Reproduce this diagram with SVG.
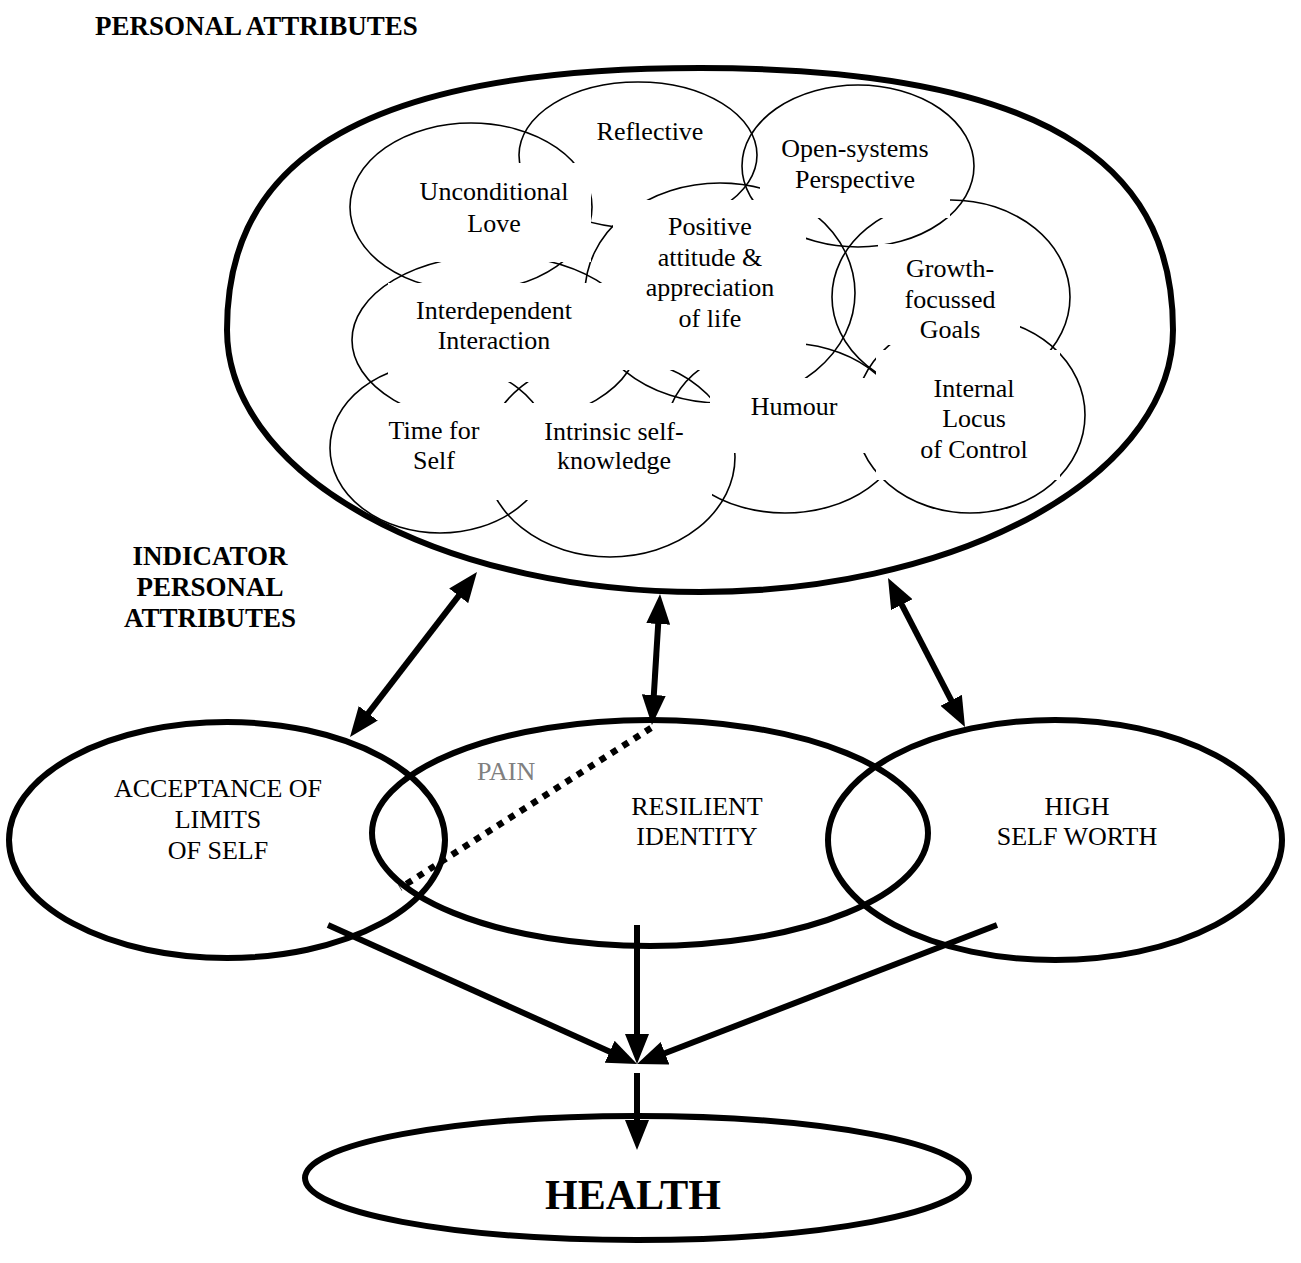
<svg xmlns="http://www.w3.org/2000/svg" width="1301" height="1263" viewBox="0 0 1301 1263">
  <defs>
    <style>
      .lobe { fill: none; stroke: #000; stroke-width: 1.6; }
      .box { fill: #fff; stroke: none; }
      .t { font-family: "Liberation Serif", "Times New Roman", serif; font-size: 26px; fill: #000; text-anchor: middle; }
      .head { font-weight: bold; font-size: 27px; }
      .thick { fill: none; stroke: #000; stroke-width: 6; }
      .arrow { fill: none; stroke: #000; stroke-width: 6; marker-end: url(#tip); }
      .both { marker-start: url(#tip); }
      .dots { fill: none; stroke: #000; stroke-width: 6.5; stroke-dasharray: 6.5 7; }
    </style>
    <marker id="tip" viewBox="0 0 30 24" refX="10" refY="12" markerWidth="30" markerHeight="24" markerUnits="userSpaceOnUse" orient="auto-start-reverse">
      <path d="M0,0 L30,12 L0,24 Z" fill="#000"/>
    </marker>
  </defs>

  <rect width="1301" height="1263" fill="#fff"/>

  <!-- headings -->
  <text class="t head" x="95" y="35" style="text-anchor:start">PERSONAL ATTRIBUTES</text>
  <g id="indicator-label">
    <text class="t head" x="210" y="565">INDICATOR</text>
    <text class="t head" x="210" y="596">PERSONAL</text>
    <text class="t head" x="210" y="627">ATTRIBUTES</text>
  </g>

  <!-- personal attributes container: flattened top, elliptical bottom -->
  <g id="personal-attributes">
    <path class="thick" d="M227,330 C227,185 321.6,68 700,68 C1078.4,68 1173,185 1173,330 A473,262 0 0 1 227,330 Z"/>
  </g>

  <!-- cloud lobes (outlines only; text panels below mask parts of them) -->
  <g id="cloud-outline">
    <ellipse class="lobe" cx="471" cy="207" rx="121" ry="84"/>
    <ellipse class="lobe" cx="638" cy="155" rx="119" ry="73"/>
    <ellipse class="lobe" cx="858" cy="166" rx="116" ry="81"/>
    <ellipse class="lobe" cx="720" cy="293" rx="135" ry="110"/>
    <ellipse class="lobe" cx="951" cy="297" rx="119" ry="97"/>
    <ellipse class="lobe" cx="495" cy="340" rx="143" ry="85"/>
    <ellipse class="lobe" cx="970" cy="415" rx="115" ry="98"/>
    <ellipse class="lobe" cx="785" cy="428" rx="118" ry="85"/>
    <ellipse class="lobe" cx="440" cy="448" rx="110" ry="85"/>
    <ellipse class="lobe" cx="610" cy="457" rx="125" ry="100"/>
  </g>

  <!-- cloud attributes: white text panels with labels -->
  <g id="unconditional-love">
    <rect class="box" x="400" y="163" width="191" height="99"/>
    <text class="t" x="494" y="200">Unconditional</text>
    <text class="t" x="494" y="232">Love</text>
  </g>
  <g id="reflective">
    <text class="t" x="650" y="140">Reflective</text>
  </g>
  <g id="open-systems">
    <rect class="box" x="760" y="125" width="190" height="93"/>
    <text class="t" x="855" y="157">Open-systems</text>
    <text class="t" x="855" y="188">Perspective</text>
  </g>
  <g id="positive-attitude">
    <rect class="box" x="613" y="200" width="193" height="170"/>
    <text class="t" x="710" y="235">Positive</text>
    <text class="t" x="710" y="266">attitude &amp;</text>
    <text class="t" x="710" y="296">appreciation</text>
    <text class="t" x="710" y="327">of life</text>
  </g>
  <g id="growth-goals">
    <rect class="box" x="878" y="244" width="142" height="101"/>
    <text class="t" x="950" y="277">Growth-</text>
    <text class="t" x="950" y="308">focussed</text>
    <text class="t" x="950" y="338">Goals</text>
  </g>
  <g id="interdependent-interaction">
    <rect class="box" x="388" y="283" width="225" height="99"/>
    <text class="t" x="494" y="319">Interdependent</text>
    <text class="t" x="494" y="349">Interaction</text>
  </g>
  <g id="humour">
    <rect class="box" x="710" y="378" width="156" height="75"/>
    <text class="t" x="794" y="415">Humour</text>
  </g>
  <g id="internal-locus">
    <rect class="box" x="876" y="350" width="184" height="130"/>
    <text class="t" x="974" y="397">Internal</text>
    <text class="t" x="974" y="427">Locus</text>
    <text class="t" x="974" y="458">of Control</text>
  </g>
  <g id="time-for-self">
    <rect class="box" x="372" y="403" width="128" height="94"/>
    <text class="t" x="434" y="439">Time for</text>
    <text class="t" x="434" y="469">Self</text>
  </g>
  <g id="intrinsic-self-knowledge">
    <rect class="box" x="480" y="403" width="232" height="97"/>
    <text class="t" x="614" y="440">Intrinsic self-</text>
    <text class="t" x="614" y="469">knowledge</text>
  </g>

  <!-- indicator attributes -->
  <g id="acceptance-of-limits">
    <ellipse class="thick" cx="227" cy="840" rx="218" ry="118"/>
    <text class="t" x="218" y="797">ACCEPTANCE OF</text>
    <text class="t" x="218" y="828">LIMITS</text>
    <text class="t" x="218" y="859">OF SELF</text>
  </g>
  <g id="resilient-identity">
    <ellipse class="thick" cx="650" cy="833" rx="278" ry="113"/>
    <text class="t" x="697" y="815">RESILIENT</text>
    <text class="t" x="697" y="845">IDENTITY</text>
  </g>
  <g id="high-self-worth">
    <ellipse class="thick" cx="1055" cy="840" rx="227" ry="120"/>
    <text class="t" x="1077" y="815">HIGH</text>
    <text class="t" x="1077" y="845">SELF WORTH</text>
  </g>
  <g id="health">
    <ellipse class="thick" cx="637" cy="1178" rx="332" ry="62"/>
    <text class="t" x="633" y="1209" style="font-weight:bold;font-size:42px">HEALTH</text>
  </g>

  <!-- connectors -->
  <g id="connectors">
    <path class="arrow both" d="M464.8,587.9 L362.2,721.2"/>
    <path class="arrow both" d="M658.8,614 L653.2,705"/>
    <path class="arrow both" d="M897.2,595.8 L955.8,709.2"/>
    <path class="dots" d="M651,728 L400,888"/>
    <text class="t" x="477" y="780" style="text-anchor:start;fill:#808080">PAIN</text>
    <path class="arrow" d="M328,925 L618.8,1055.8"/>
    <path class="arrow" d="M997,925 L655.7,1056.8"/>
    <path class="arrow" d="M637,925 L637,1044"/>
    <path class="arrow" d="M637,1073 L637,1130"/>
  </g>
</svg>
